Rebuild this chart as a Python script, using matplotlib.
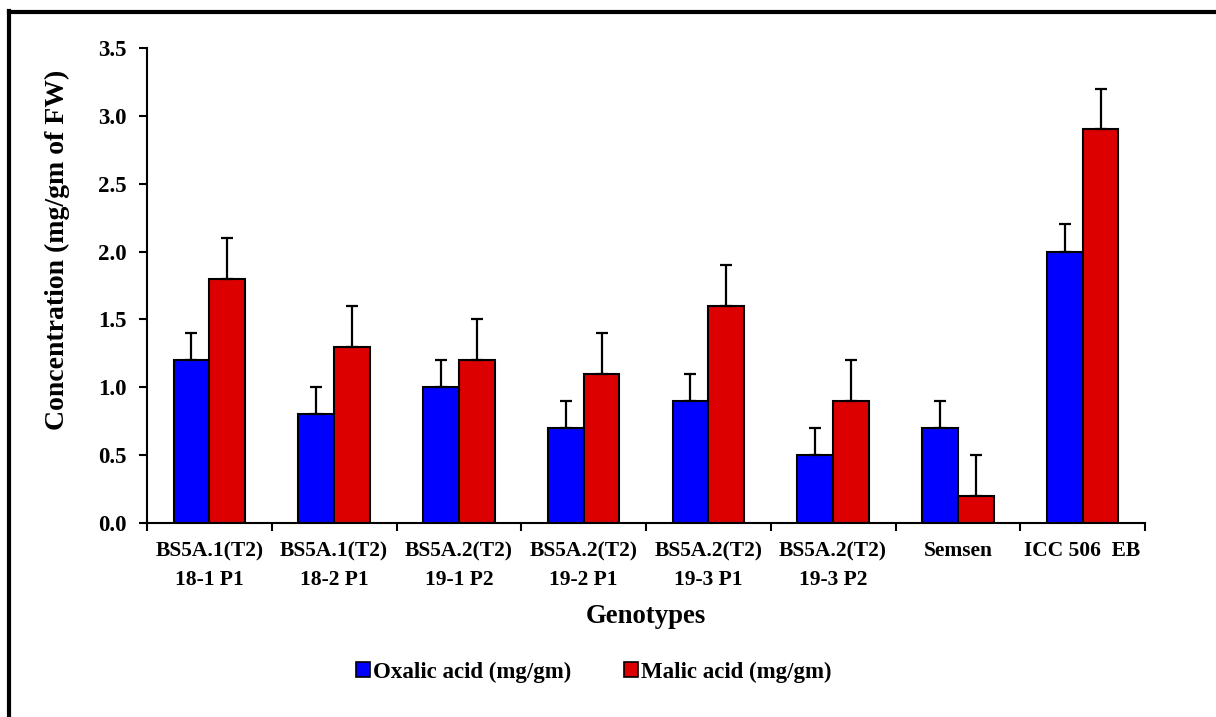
import matplotlib
matplotlib.use("Agg")
import matplotlib.pyplot as plt
from matplotlib.patches import Patch
from matplotlib.lines import Line2D
import numpy as np

categories = ["BS5A.1(T2)\n18-1 P1", "BS5A.1(T2)\n18-2 P1", "BS5A.2(T2)\n19-1 P2",
              "BS5A.2(T2)\n19-2 P1", "BS5A.2(T2)\n19-3 P1", "BS5A.2(T2)\n19-3 P2",
              "Semsen", "ICC 506  EB"]
oxalic = [1.2, 0.8, 1.0, 0.7, 0.9, 0.5, 0.7, 2.0]
oxalic_err = [0.2, 0.2, 0.2, 0.2, 0.2, 0.2, 0.2, 0.2]
malic = [1.8, 1.3, 1.2, 1.1, 1.6, 0.9, 0.2, 2.9]
malic_err = [0.3, 0.3, 0.3, 0.3, 0.3, 0.3, 0.3, 0.3]
yticks = [0.0, 0.5, 1.0, 1.5, 2.0, 2.5, 3.0, 3.5]

plt.rcParams['font.family'] = ['Liberation Serif', 'DejaVu Serif']
plt.rcParams['font.weight'] = 'bold'

W, H = 1216, 717
fig = plt.figure(figsize=(W/100, H/100), dpi=100)
ax = fig.add_axes([147/W, 1-523/H, (1145-147)/W, (523-48)/H])

x = np.arange(len(categories))
w = 0.287
blue = "#0000FF"
red = "#DD0000"
ekw = dict(ecolor="black", elinewidth=1.6, capsize=4.5, capthick=1.6)
ax.bar(x - w/2, oxalic, w, color=blue, edgecolor="black", linewidth=1.5,
       yerr=[np.zeros(len(oxalic)), oxalic_err], error_kw=ekw, zorder=2)
ax.bar(x + w/2, malic, w, color=red, edgecolor="black", linewidth=1.5,
       yerr=[np.zeros(len(malic)), malic_err], error_kw=ekw, zorder=2)

ax.set_xlim(-0.5, len(categories) - 0.5)
ax.set_ylim(0, 3.5)
ax.set_yticks(yticks)
ax.set_yticklabels([f"{v:.1f}" for v in yticks])
ax.set_xticks(x)
ax.set_xticklabels(categories, linespacing=1.62)
ax.tick_params(axis='x', length=0, pad=13, labelsize=15.5)
ax.set_xticks(np.arange(len(categories) + 1) - 0.5, minor=True)
ax.tick_params(axis='x', which='minor', length=6, width=1.5, direction='out')
ax.tick_params(axis='y', length=6, width=1.5, direction='out', pad=9, labelsize=16.5)
for lab in ax.get_xticklabels() + ax.get_yticklabels():
    lab.set_fontweight('bold')

for s in ['top', 'right']:
    ax.spines[s].set_visible(False)
for s in ['left', 'bottom']:
    ax.spines[s].set_linewidth(1.5)

ax.set_ylabel("Concentration (mg/gm of FW)", fontsize=20, fontweight='bold')
ax.yaxis.set_label_coords((70-147)/998, (523-250)/475)
ax.set_xlabel("Genotypes", fontsize=19.3, fontweight='bold', labelpad=10)

handles = [Patch(facecolor=blue, edgecolor="black", linewidth=1.2, label="Oxalic acid (mg/gm)"),
           Patch(facecolor=red, edgecolor="black", linewidth=1.2, label="Malic acid (mg/gm)")]
fig.legend(handles=handles, loc='center', bbox_to_anchor=(594/W, 1-672/H), ncol=2,
           frameon=False, handlelength=0.6, handleheight=0.6, handletextpad=0.15,
           columnspacing=2.3, prop={'size': 16.5, 'weight': 'bold'})

# outer frame (left and top only)
fig.add_artist(Line2D([9/W, 9/W], [0, 1-11/H], color='black', linewidth=3, transform=fig.transFigure))
fig.add_artist(Line2D([9/W, 1], [1-11.5/H, 1-11.5/H], color='black', linewidth=3, transform=fig.transFigure))

fig.savefig("out.png", dpi=100)
